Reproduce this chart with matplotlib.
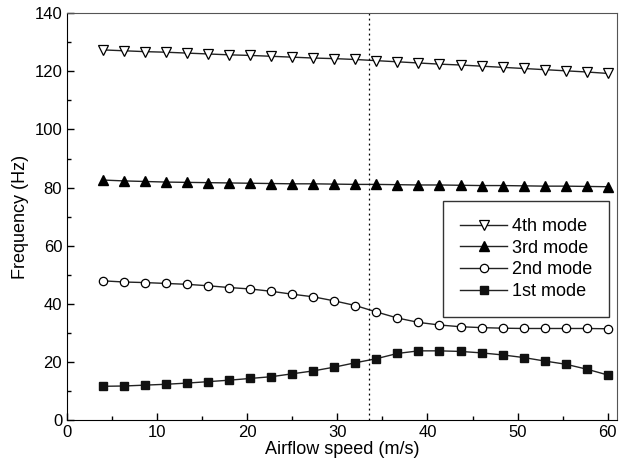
import numpy as np
import matplotlib
matplotlib.use('Agg')
import matplotlib.pyplot as plt
from matplotlib.ticker import MultipleLocator

plt.rcParams['font.family'] = ['Liberation Sans', 'DejaVu Sans']

# airflow speed samples (m/s)
speed = [4.0, 6.33, 8.67, 11.0, 13.33, 15.67, 18.0, 20.33, 22.67, 25.0, 27.33, 29.67, 32.0,
         34.33, 36.67, 39.0, 41.33, 43.67, 46.0, 48.33, 50.67, 53.0, 55.33, 57.67, 60.0]

mode4 = [127.4, 127.1, 126.8, 126.6, 126.3, 126.0, 125.7, 125.5, 125.2, 124.9, 124.6, 124.4, 124.1,
         123.7, 123.3, 122.9, 122.5, 122.2, 121.8, 121.4, 121.0, 120.6, 120.2, 119.8, 119.3]
mode3 = [82.6, 82.3, 82.1, 81.9, 81.8, 81.7, 81.6, 81.5, 81.4, 81.3, 81.3, 81.2, 81.1,
         81.1, 81.0, 80.9, 80.9, 80.8, 80.7, 80.7, 80.6, 80.5, 80.5, 80.4, 80.3]
mode2 = [47.9, 47.5, 47.3, 47.0, 46.7, 46.2, 45.6, 45.1, 44.3, 43.3, 42.4, 41.0, 39.4,
         37.2, 35.1, 33.6, 32.7, 32.1, 31.8, 31.6, 31.5, 31.5, 31.5, 31.5, 31.4]
mode1 = [11.6, 11.7, 12.0, 12.3, 12.7, 13.2, 13.7, 14.3, 14.9, 15.9, 16.9, 18.2, 19.7,
         21.1, 22.9, 23.8, 23.8, 23.6, 23.1, 22.4, 21.5, 20.3, 19.2, 17.5, 15.5]

critical_speed = 33.5

fig = plt.figure(figsize=(6.22, 4.65), dpi=100)
ax = fig.add_axes([0.1077, 0.0968, 0.8838, 0.8746])

lc = '#222222'
ax.plot(speed, mode4, color=lc, lw=1, marker='v', ms=7, mfc='white', mec='black', mew=0.9, label='4th mode')
ax.plot(speed, mode3, color=lc, lw=1, marker='^', ms=7, mfc='black', mec='black', label='3rd mode')
ax.plot(speed, mode2, color=lc, lw=1, marker='o', ms=6, mfc='white', mec='black', mew=0.9, label='2nd mode')
ax.plot(speed, mode1, color=lc, lw=1, marker='s', ms=6, mfc='#111111', mec='#111111', label='1st mode')

ax.axvline(critical_speed, color='black', lw=0.9, ls=(0, (1.5, 2.5)))

ax.set_xlim(0, 61)
ax.set_ylim(0, 140)
ax.xaxis.set_major_locator(MultipleLocator(10))
ax.xaxis.set_minor_locator(MultipleLocator(5))
ax.yaxis.set_major_locator(MultipleLocator(20))
ax.yaxis.set_minor_locator(MultipleLocator(10))
ax.tick_params(which='both', direction='in', top=False, right=False, labelsize=12)
ax.tick_params(which='major', length=5, width=1)
ax.tick_params(which='minor', length=3, width=1)
for s in ['top', 'right']:
    ax.spines[s].set_color('#555555')

ax.set_xlabel('Airflow speed (m/s)', fontsize=13, labelpad=1)
ax.set_ylabel('Frequency (Hz)', fontsize=13, labelpad=4)

leg = ax.legend(loc='upper left', bbox_to_anchor=(0.684, 0.539),
                fontsize=13, frameon=True, fancybox=False, edgecolor='black',
                handlelength=2.6, handletextpad=0.25, labelspacing=0.26,
                borderpad=0.95, borderaxespad=0)
leg.get_frame().set_linewidth(1)

fig.savefig('out.png', dpi=100)
